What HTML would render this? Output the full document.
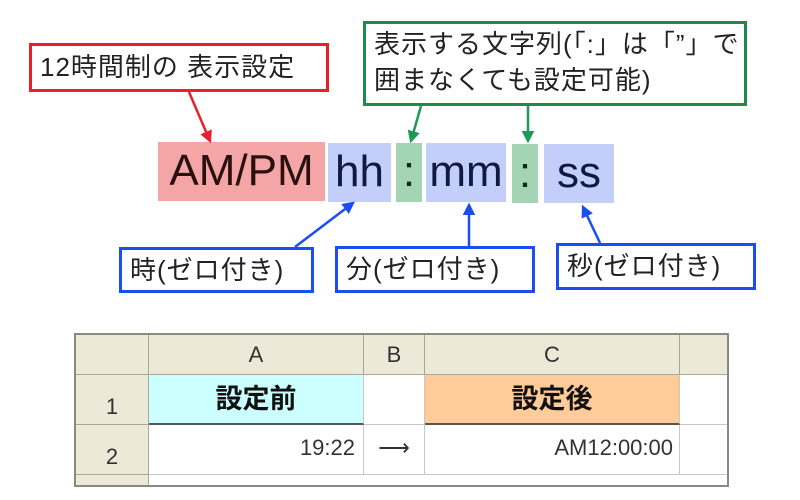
<!DOCTYPE html>
<html><head><meta charset="utf-8"><style>
body{margin:0;width:800px;height:500px;background:#fff;position:relative;overflow:hidden;font-family:"Liberation Sans","Noto Sans CJK JP",sans-serif}
.box{position:absolute;box-sizing:border-box;background:#fff;font-size:26px;letter-spacing:1px;color:#222;padding-left:8px;white-space:nowrap}
.tok{position:absolute;font-size:44px;text-align:center;line-height:58px;font-family:"Liberation Sans",sans-serif}
.c{position:absolute;box-sizing:border-box;border-right:1px solid #c8c8c8;border-bottom:1px solid #c8c8c8;text-align:center;color:#333;font-size:22px}
.h{background:#ece9d8;border-right:1px solid #a8a89a;border-bottom:1px solid #a8a89a}
</style></head><body>
<div class="box" style="left:29px;top:43px;width:300px;height:49px;border:3px solid #e8202a;line-height:43px">12時間制の 表示設定</div>
<div class="box" style="left:363px;top:21px;width:384px;height:85px;border:3px solid #1e8a4c;line-height:36px;padding-top:2px">表示する文字列(「:」は「”」で<br>囲まなくても設定可能)</div>
<div class="tok" style="left:158px;top:142px;width:167px;height:59px;background:#f4a6a6;color:#2a1010">AM/PM</div>
<div class="tok" style="left:328px;top:143px;width:63px;height:59px;background:#c3cefa;color:#101a40">hh</div>
<div class="tok" style="left:396px;top:143px;width:26px;height:59px;background:#a3d4b4;color:#102a10">:</div>
<div class="tok" style="left:426px;top:143px;width:80px;height:59px;background:#c3cefa;color:#101a40">mm</div>
<div class="tok" style="left:512px;top:144px;width:26px;height:59px;background:#a3d4b4;color:#102a10">:</div>
<div class="tok" style="left:544px;top:144px;width:70px;height:59px;background:#c3cefa;color:#101a40">ss</div>
<div class="box" style="left:119px;top:247px;width:195px;height:46px;border:3px solid #1a4ef0;line-height:40px">時(ゼロ付き)</div>
<div class="box" style="left:335px;top:246px;width:200px;height:47px;border:3px solid #1a4ef0;line-height:41px">分(ゼロ付き)</div>
<div class="box" style="left:556px;top:243px;width:200px;height:47px;border:3px solid #1a4ef0;line-height:41px">秒(ゼロ付き)</div>
<svg style="position:absolute;left:0;top:0" width="800" height="300">
<defs>
<marker id="r" markerWidth="5" markerHeight="5" refX="4" refY="2.5" orient="auto"><path d="M0,0L5,2.5L0,5z" fill="#e8202a"/></marker>
<marker id="g" markerWidth="5" markerHeight="5" refX="4" refY="2.5" orient="auto"><path d="M0,0L5,2.5L0,5z" fill="#1e9a58"/></marker>
<marker id="b" markerWidth="5" markerHeight="5" refX="4" refY="2.5" orient="auto"><path d="M0,0L5,2.5L0,5z" fill="#1a4ef0"/></marker>
</defs>
<line x1="189" y1="92" x2="210" y2="141" stroke="#e8202a" stroke-width="2.5" marker-end="url(#r)"/>
<line x1="421" y1="106" x2="411" y2="141" stroke="#1e9a58" stroke-width="2.5" marker-end="url(#g)"/>
<line x1="528" y1="106" x2="528" y2="141" stroke="#1e9a58" stroke-width="2.5" marker-end="url(#g)"/>
<line x1="295" y1="247" x2="353" y2="203" stroke="#1a4ef0" stroke-width="2.5" marker-end="url(#b)"/>
<line x1="469" y1="246" x2="469" y2="205" stroke="#1a4ef0" stroke-width="2.5" marker-end="url(#b)"/>
<line x1="600" y1="243" x2="583" y2="207" stroke="#1a4ef0" stroke-width="2.5" marker-end="url(#b)"/>
</svg>
<div style="position:absolute;left:74px;top:333px;width:655px;height:154px;border:2px solid #8a8a80;box-sizing:border-box;overflow:hidden">
<div class="c h" style="left:0;top:0;width:73px;height:40px"></div>
<div class="c h" style="left:73px;top:0;width:215px;height:40px;line-height:40px">A</div>
<div class="c h" style="left:288px;top:0;width:61px;height:40px;line-height:40px">B</div>
<div class="c h" style="left:349px;top:0;width:255px;height:40px;line-height:40px">C</div>
<div class="c h" style="left:604px;top:0;width:60px;height:40px"></div>
<div class="c h" style="left:0;top:40px;width:73px;height:50px;line-height:64px">1</div>
<div class="c" style="left:73px;top:40px;width:215px;height:50px;background:#ccffff;border-bottom:2px solid #555;font-weight:bold;font-size:27px;color:#111;line-height:48px">設定前</div>
<div class="c" style="left:288px;top:40px;width:61px;height:50px"></div>
<div class="c" style="left:349px;top:40px;width:255px;height:50px;background:#ffcc99;border-bottom:2px solid #555;font-weight:bold;font-size:27px;color:#111;line-height:48px">設定後</div>
<div class="c" style="left:604px;top:40px;width:60px;height:50px"></div>
<div class="c h" style="left:0;top:90px;width:73px;height:50px;line-height:64px">2</div>
<div class="c" style="left:73px;top:90px;width:215px;height:50px;text-align:right;padding-right:8px;line-height:46px">19:22</div>
<div class="c" style="left:288px;top:90px;width:61px;height:50px;line-height:46px">⟶</div>
<div class="c" style="left:349px;top:90px;width:255px;height:50px;text-align:right;padding-right:6px;line-height:46px">AM12:00:00</div>
<div class="c" style="left:604px;top:90px;width:60px;height:50px"></div>
<div class="c h" style="left:0;top:140px;width:73px;height:20px"></div>
</div>
</body></html>
